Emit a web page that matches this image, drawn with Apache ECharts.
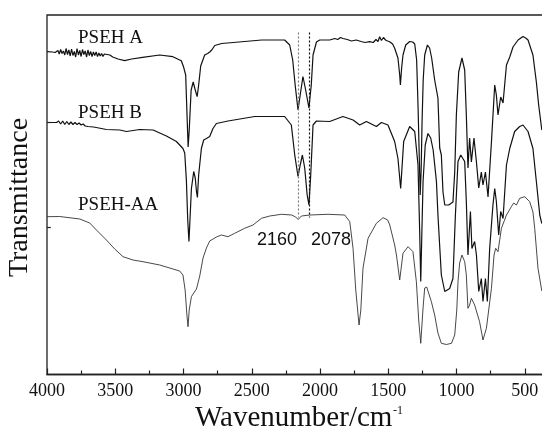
<!DOCTYPE html>
<html>
<head>
<meta charset="utf-8">
<title>FTIR PSEH</title>
<script src="https://cdn.jsdelivr.net/npm/echarts@6.0.0/dist/echarts.min.js"></script>
<style>
  html, body { margin: 0; padding: 0; background: #fff; }
  #chart { width: 542px; height: 433px; }
</style>
</head>
<body>
<div id="chart"></div>
<script>
// wavenumber (cm-1), transmittance (arbitrary units, curves offset)
const pseHA = [
  [4000, 322.8], [3960, 322.5], [3940, 322], [3930, 322.5], [3920, 324], [3910, 320.5], [3900, 325],
  [3890, 321], [3880, 323.5], [3870, 319.5], [3860, 326], [3850, 320], [3840, 324.5], [3830, 318.5],
  [3820, 325.5], [3810, 319], [3800, 323], [3790, 317.5], [3780, 326], [3770, 319.5], [3760, 324],
  [3750, 318], [3740, 325], [3730, 320], [3720, 323.5], [3710, 317.5], [3700, 324.5], [3690, 319],
  [3680, 323], [3670, 318], [3660, 322.5], [3650, 319], [3640, 322.5], [3630, 318], [3620, 321.5],
  [3610, 318.5], [3600, 321], [3590, 318], [3580, 320.5], [3570, 318.5], [3560, 320], [3550, 318.5],
  [3540, 319.5], [3518, 317.5], [3480, 315.5], [3431, 313.8], [3380, 315.5], [3300, 317.2],
  [3175, 319.5], [3078, 317.8], [3016, 313.8], [3000, 307.8], [2984, 299.5], [2973, 254.5],
  [2966, 227.5], [2958, 244.5], [2944, 284.5], [2929, 292.5], [2914, 284.5], [2900, 277.8],
  [2889, 289.5], [2874, 308.5], [2845, 319.5], [2823, 321], [2808, 322.5], [2793, 324.5],
  [2771, 329], [2720, 331], [2552, 333], [2427, 334.5], [2259, 334.5], [2222, 329.5],
  [2200, 314.5], [2182, 289.5], [2161, 264.5], [2145, 279.5], [2125, 298], [2105, 284.5],
  [2081, 266.5], [2064, 289.5], [2051, 319.5], [2026, 332.5], [2002, 334.5], [1929, 334.5],
  [1892, 336], [1870, 335], [1850, 337], [1832, 336], [1800, 335], [1770, 333.5], [1734, 334.5],
  [1700, 333], [1670, 332], [1636, 332.8], [1610, 332], [1590, 335], [1575, 333], [1563, 337.8],
  [1550, 334], [1535, 337], [1520, 334.5], [1505, 333.5], [1490, 332.8], [1468, 330.5],
  [1453, 326.2], [1429, 316.5], [1416, 299.5], [1411, 289.5], [1402, 306.5], [1392, 319.5],
  [1372, 329.5], [1343, 333], [1321, 332.5], [1306, 330.5], [1292, 314.5], [1281, 264.5],
  [1274, 224.5], [1266, 179.5], [1259, 204.5], [1252, 254.5], [1244, 294.5], [1233, 319.5],
  [1213, 329.5], [1197, 326.5], [1182, 316.5], [1160, 294.5], [1136, 276.5], [1123, 226.5],
  [1111, 219.5], [1099, 182.5], [1086, 169.5], [1072, 167.5], [1057, 169.5], [1043, 167.5],
  [1026, 172.5], [1013, 202.5], [1001, 259.5], [984, 302.5], [960, 316.5], [940, 304.5],
  [928, 259.5], [916, 206.5], [904, 236.5], [891, 212.5], [872, 236.5], [854, 212.5],
  [837, 186.5], [818, 202.5], [806, 189.5], [788, 202.5], [769, 177.5], [744, 232.5],
  [720, 289.5], [708, 279.5], [696, 259.5], [676, 277.5], [659, 271.5], [634, 309.5],
  [610, 317.5], [586, 327.5], [549, 334.5], [513, 338], [493, 336.5], [476, 334.5],
  [440, 319.5], [415, 292.5], [398, 269.5], [375, 244.5]
];

const pseHB = [
  [4000, 252], [3950, 252], [3930, 252], [3915, 253.5], [3900, 250.5], [3885, 253.5], [3870, 250],
  [3855, 253], [3840, 250], [3825, 252.5], [3810, 250], [3795, 252], [3780, 250], [3765, 251.5],
  [3750, 249.5], [3735, 250.5], [3720, 248.5], [3700, 248], [3687, 246], [3660, 247.5],
  [3620, 246.5], [3565, 245], [3467, 244.5], [3418, 243], [3321, 245], [3223, 244.5],
  [3125, 238.5], [3052, 233], [3004, 226], [2991, 221.5], [2979, 194.5], [2969, 154.5],
  [2960, 133], [2951, 159.5], [2942, 186], [2925, 203], [2914, 196.5], [2905, 183], [2898, 177],
  [2889, 199.5], [2869, 226], [2852, 234.5], [2832, 236], [2808, 238], [2784, 246], [2759, 251],
  [2674, 253.5], [2478, 258], [2259, 258], [2210, 249.5], [2185, 219.5], [2161, 198],
  [2145, 209.5], [2129, 219.5], [2112, 206.5], [2094, 179.5], [2081, 169.5], [2068, 199.5],
  [2051, 249.5], [2026, 253.5], [1929, 253], [1832, 258], [1758, 254.5], [1709, 249.5],
  [1660, 253], [1587, 248], [1550, 252], [1502, 249.5], [1453, 233], [1429, 216], [1409, 186],
  [1387, 233], [1343, 248], [1306, 243], [1282, 209.5], [1270, 144.5], [1262, 93], [1255, 134.5],
  [1245, 193], [1229, 229.5], [1209, 241], [1189, 236.5], [1171, 224.5], [1147, 193],
  [1136, 159.5], [1111, 99.5], [1086, 83], [1050, 86], [1026, 96], [1008, 159.5], [989, 213],
  [969, 219.5], [940, 213], [928, 173], [916, 119.5], [898, 163], [887, 126], [867, 133],
  [854, 119.5], [837, 83], [818, 96], [806, 73], [788, 96], [774, 73], [757, 126], [733, 169.5],
  [720, 186], [708, 173], [691, 139.5], [676, 163], [659, 156], [634, 209.5], [610, 226],
  [574, 243], [537, 248], [513, 249.5], [476, 243], [440, 226], [415, 193], [390, 159.5],
  [375, 151]
];

const pseHAA = [
  [4000, 157.8], [3907, 158], [3760, 155.5], [3687, 151.5], [3638, 144.5], [3565, 134.5],
  [3504, 125.5], [3443, 117.8], [3370, 114.5], [3297, 112.8], [3174, 109.5], [3028, 103.5],
  [3004, 99.5], [2988, 84.5], [2975, 59.5], [2967, 47.8], [2958, 64.5], [2942, 77.8],
  [2925, 81.5], [2905, 85.5], [2881, 98.5], [2857, 116.5], [2832, 126.5], [2808, 133.5],
  [2759, 137.5], [2722, 139.5], [2674, 137.8], [2625, 141.2], [2552, 146.2], [2491, 149.5],
  [2429, 156.2], [2368, 158.5], [2283, 160.2], [2207, 159.5], [2178, 157.5], [2160, 155],
  [2136, 158.5], [2075, 159.5], [1941, 160.2], [1819, 159.5], [1782, 152.8], [1758, 126.2],
  [1738, 84.5], [1714, 49.5], [1701, 64.5], [1685, 106.2], [1648, 136.2], [1587, 151.2],
  [1538, 156.8], [1504, 154.5], [1489, 149.5], [1453, 129.5], [1440, 119.5], [1416, 94.5],
  [1392, 121.2], [1355, 127.8], [1319, 122.8], [1294, 92.8], [1277, 54.5], [1262, 31.2],
  [1245, 66.5], [1233, 86.5], [1218, 87.5], [1209, 83.5], [1184, 72.8], [1160, 59.5],
  [1136, 41.5], [1111, 31.2], [1074, 30], [1037, 31.2], [1013, 39.5], [998, 64.5], [989, 92.8],
  [977, 111.5], [960, 119.5], [940, 112.8], [928, 99.5], [916, 66.2], [904, 69.5], [891, 76.2],
  [879, 74.5], [867, 69.5], [831, 52.8], [806, 34.5], [794, 36.5], [781, 46.2], [764, 64.5],
  [744, 86.2], [725, 119.5], [713, 126.2], [696, 122.8], [671, 146.2], [634, 159.5],
  [598, 167.8], [581, 171.5], [561, 169.5], [537, 176.2], [500, 177.8], [464, 172.8],
  [440, 162.5], [427, 146.2], [403, 106.2], [375, 83.5]
];

// marked bands (cm-1) and the span of their guide lines
const bandMarks = [2160, 2078];
const bandColors = ['#7a7a7a', '#111'];
const guideSpan = [342, 157];

// left-axis tick positions (transmittance units) and tick reach (cm-1)
const yTicks = [252.5, 147.5];
const yTickReach = [4000, 3972];

const xTickInterval = 500;

const chart = echarts.init(document.getElementById('chart'));

const serif = '"Liberation Serif", "Times New Roman", serif';

const option = {
  animation: false,
  backgroundColor: '#fff',
  grid: {
    left: 47,
    top: 15,
    right: -51,
    bottom: 58.5,
    outerBoundsMode: 'none',
    containLabel: false,
    show: true,
    borderColor: '#222',
    borderWidth: 1.3
  },
  xAxis: {
    type: 'value',
    inverse: true,
    min: 0,
    max: 4000,
    interval: xTickInterval,
    axisLine: { lineStyle: { color: '#222', width: 1.3 } },
    axisTick: { inside: true, length: 6, lineStyle: { color: '#222', width: 1.2 } },
    minorTick: { show: true, splitNumber: 2, length: 4, lineStyle: { color: '#222', width: 1.2 } },
    splitLine: { show: false },
    axisLabel: {
      color: '#111', fontFamily: serif, fontSize: 18, margin: 8,
      formatter: v => (v === 0 ? '' : String(v))
    }
  },
  yAxis: {
    type: 'value',
    min: 0,
    max: 359.5,
    axisLine: { show: true, lineStyle: { color: '#222', width: 1.3 } },
    axisTick: { show: false },
    axisLabel: { show: false },
    splitLine: { show: false }
  },
  series: [
    {
      name: 'PSEH A',
      type: 'line',
      data: pseHA,
      showSymbol: false,
      lineStyle: { color: '#111', width: 1.2 },
      markLine: {
        silent: true,
        symbol: ['none', 'none'],
        label: { show: false },
        data: bandMarks.map((wn, i) => [
          { coord: [wn, guideSpan[0]], lineStyle: { color: bandColors[i], type: [2, 2], width: 1.2 } },
          { coord: [wn, guideSpan[1]] }
        ]).concat(yTicks.map(t => [
          { coord: [yTickReach[0], t], lineStyle: { color: '#222', type: 'solid', width: 1.2 } },
          { coord: [yTickReach[1], t] }
        ]))
      }
    },
    {
      name: 'PSEH B',
      type: 'line',
      data: pseHB,
      showSymbol: false,
      lineStyle: { color: '#111', width: 1.2 }
    },
    {
      name: 'PSEH-AA',
      type: 'line',
      data: pseHAA,
      showSymbol: false,
      lineStyle: { color: '#333', width: 0.9 }
    }
  ],
  graphic: [
    { type: 'text', x: 78, y: 38.5, style: { text: 'PSEH A', font: '19px ' + serif, fill: '#111', align: 'left', verticalAlign: 'middle' } },
    { type: 'text', x: 78, y: 113.5, style: { text: 'PSEH B', font: '19px ' + serif, fill: '#111', align: 'left', verticalAlign: 'middle' } },
    { type: 'text', x: 78, y: 205, style: { text: 'PSEH-AA', font: '19px ' + serif, fill: '#111', align: 'left', verticalAlign: 'middle' } },
    { type: 'text', x: 297, y: 240, style: { text: String(bandMarks[0]), font: '18px "Liberation Sans", Arial, sans-serif', fill: '#111', align: 'right', verticalAlign: 'middle' } },
    { type: 'text', x: 311, y: 240, style: { text: String(bandMarks[1]), font: '18px "Liberation Sans", Arial, sans-serif', fill: '#111', align: 'left', verticalAlign: 'middle' } },
    { type: 'text', x: 195, y: 418, style: { text: 'Wavenumber/cm', font: '29px ' + serif, fill: '#111', align: 'left', verticalAlign: 'middle' } },
    { type: 'text', x: 393, y: 411, style: { text: '-1', font: '12px ' + serif, fill: '#111', align: 'left', verticalAlign: 'middle' } },
    { type: 'text', x: 20, y: 197.5, rotation: Math.PI / 2, style: { text: 'Transmittance', font: '28px ' + serif, fill: '#111', align: 'center', verticalAlign: 'middle' } }
  ]
};

chart.setOption(option);
</script>
</body>
</html>
